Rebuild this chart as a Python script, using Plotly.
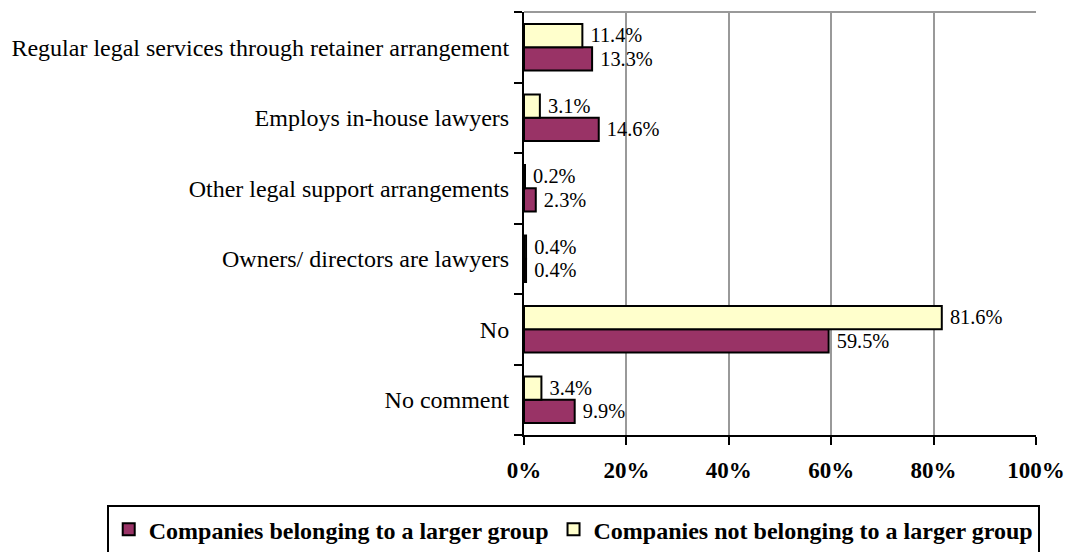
import plotly.graph_objects as go

categories = [
    "Regular legal services through retainer arrangement",
    "Employs in-house lawyers",
    "Other legal support arrangements",
    "Owners/ directors are lawyers",
    "No",
    "No comment",
]
belonging = [13.3, 14.6, 2.3, 0.4, 59.5, 9.9]
not_belonging = [11.4, 3.1, 0.2, 0.4, 81.6, 3.4]
x_ticks = [0, 20, 40, 60, 80, 100]
x_tick_labels = ["0%", "20%", "40%", "60%", "80%", "100%"]

serif = "Liberation Serif"

fig = go.Figure()
fig.add_trace(go.Bar(
    y=categories, x=belonging, orientation="h",
    name="Companies belonging to a larger group",
    marker=dict(color="#993366", line=dict(color="black", width=2)),
    texttemplate=" %{x:.1f}%", textposition="outside",
    textfont=dict(family=serif, size=21, color="black"),
    cliponaxis=False,
))
fig.add_trace(go.Bar(
    y=categories, x=not_belonging, orientation="h",
    name="Companies not belonging to a larger group",
    marker=dict(color="#FFFFCC", line=dict(color="black", width=2)),
    texttemplate=" %{x:.1f}%", textposition="outside",
    textfont=dict(family=serif, size=21, color="black"),
    cliponaxis=False,
))

fig.update_layout(
    width=1068, height=552,
    margin=dict(l=524, r=32, t=12, b=117, autoexpand=False),
    barmode="group", bargap=0.34, bargroupgap=0,
    plot_bgcolor="white", paper_bgcolor="white",
    font=dict(family=serif, size=21, color="black"),
    showlegend=True,
    legend=dict(
        orientation="h", x=-0.815, y=-0.166, xanchor="left", yanchor="top",
        bordercolor="black", borderwidth=2,
        font=dict(family=serif, size=24, color="black", weight="bold"),
        traceorder="normal", itemwidth=30,
    ),
)
fig.update_xaxes(
    range=[0, 100], tickvals=x_ticks, ticktext=x_tick_labels,
    showgrid=True, gridcolor="#999999", gridwidth=2,
    showline=True, linecolor="black", linewidth=2,
    ticks="outside", ticklen=8, tickwidth=2, tickcolor="black",
    tickfont=dict(family=serif, size=23, color="black", weight="bold"),
    zeroline=False, automargin=False, ticklabelstandoff=5,
)
fig.update_yaxes(
    categoryorder="array", categoryarray=categories[::-1],
    showline=True, linecolor="black", linewidth=2,
    ticks="outside", ticklen=8, tickwidth=2, tickcolor="black",
    tickson="boundaries", showgrid=False,
    tickfont=dict(family=serif, size=24, color="black"),
    ticklabelstandoff=8, automargin=False,
)
fig.add_shape(type="line", xref="paper", yref="paper", x0=0, x1=1, y0=1, y1=1,
              line=dict(color="#999999", width=2))

# drop the default body margin so the figure fills the window exactly
fig.write_html(
    "out.html",
    config={"displayModeBar": False},
    post_script="document.body.style.margin='0';document.body.style.overflow='hidden';",
)
